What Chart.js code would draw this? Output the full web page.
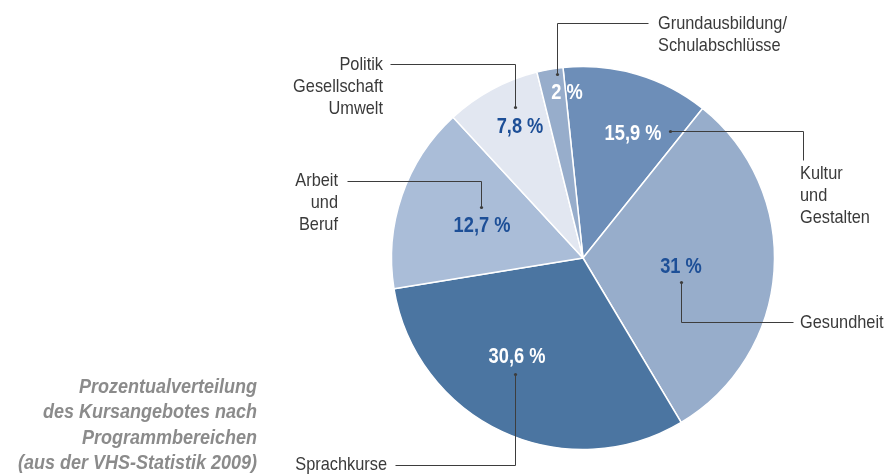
<!DOCTYPE html>
<html>
<head>
<meta charset="utf-8">
<title>Kursangebote nach Programmbereichen</title>
<script src="https://cdn.jsdelivr.net/npm/chart.js@4/dist/chart.umd.min.js"></script>
<style>
  html, body { margin: 0; padding: 0; background: #ffffff; }
  #pie { display: block; }
</style>
</head>
<body>
<canvas id="pie" width="885" height="475"></canvas>
<script>
// slices, clockwise from the top
const categories = ['Kultur und Gestalten', 'Gesundheit', 'Sprachkurse', 'Arbeit und Beruf',
                    'Politik Gesellschaft Umwelt', 'Grundausbildung/Schulabschlüsse'];
// slice sizes as drawn in the picture (in %)
const sliceShares = [12.4, 30.7, 31.0, 15.7, 8.0, 2.2];
// printed values
const valueLabels = ['15,9 %', '31 %', '30,6 %', '12,7 %', '7,8 %', '2 %'];
const categoryLines = [
  ['Kultur', 'und', 'Gestalten'],
  ['Gesundheit'],
  ['Sprachkurse'],
  ['Arbeit', 'und', 'Beruf'],
  ['Politik', 'Gesellschaft', 'Umwelt'],
  ['Grundausbildung/', 'Schulabschlüsse']
];
const titleLines = ['Prozentualverteilung', 'des Kursangebotes nach', 'Programmbereichen',
                    '(aus der VHS-Statistik 2009)'];

const sliceColors = ['#6d8eb8', '#97adcb', '#4b75a1', '#aabdd8', '#e2e7f1', '#97adcb'];
const valueColors = ['#ffffff', '#1d4f97', '#ffffff', '#1d4f97', '#1d4f97', '#ffffff'];

// callout layout, px offsets from the pie centre (at radius 191.5)
const callouts = [
  { label: [50, -124], path: [[87, -127], [220, -127], [220, -98]], text: [217, -84], align: 'left' },
  { label: [98, 9], path: [[98, 24], [98, 64], [210, 64]], text: [217, 65], align: 'left' },
  { label: [-66, 99], path: [[-68, 116], [-68, 207], [-188, 207]], text: [-196, 207], align: 'right' },
  { label: [-101, -32], path: [[-102, -51], [-102, -77], [-236, -77]], text: [-245, -77], align: 'right' },
  { label: [-63, -131], path: [[-68, -151], [-68, -194], [-193, -194]], text: [-200, -193], align: 'right' },
  { label: [-16, -165], path: [[-26, -184], [-26, -235], [65, -235]], text: [75, -234], align: 'left' }
];

const SANS = "'Liberation Sans', Arial, Helvetica, sans-serif";

// no condensed face installed, so squeeze the text horizontally
function narrowText(ctx, text, x, y, sx) {
  ctx.save();
  ctx.translate(x, y);
  ctx.scale(sx, 1);
  ctx.fillText(text, 0, 0);
  ctx.restore();
}

const calloutPlugin = {
  id: 'callouts',
  afterDatasetsDraw(chart) {
    const ctx = chart.ctx;
    const arcs = chart.getDatasetMeta(0).data;
    if (!arcs.length) return;
    const cx = arcs[0].x, cy = arcs[0].y;
    const k = arcs[0].outerRadius / 191.5;
    ctx.save();

    // leader lines
    ctx.strokeStyle = '#3d3d3d';
    ctx.lineWidth = 1;
    callouts.forEach(function (c) {
      ctx.beginPath();
      c.path.forEach(function (p, i) {
        const x = Math.round(cx + p[0] * k) + 0.5;
        const y = Math.round(cy + p[1] * k) + 0.5;
        if (i === 0) ctx.moveTo(x, y); else ctx.lineTo(x, y);
      });
      ctx.stroke();
      ctx.fillStyle = '#3d3d3d';
      ctx.beginPath();
      ctx.arc(Math.round(cx + c.path[0][0] * k) + 0.5, Math.round(cy + c.path[0][1] * k) + 0.5, 1.6, 0, Math.PI * 2);
      ctx.fill();
    });

    // values inside the slices
    ctx.font = 'bold 22px ' + SANS;
    ctx.textAlign = 'center';
    ctx.textBaseline = 'middle';
    callouts.forEach(function (c, i) {
      ctx.fillStyle = valueColors[i];
      narrowText(ctx, valueLabels[i], cx + c.label[0] * k, cy + c.label[1] * k, 0.83);
    });

    // category names
    ctx.font = '19px ' + SANS;
    ctx.fillStyle = '#3a3a3a';
    callouts.forEach(function (c, i) {
      ctx.textAlign = c.align;
      categoryLines[i].forEach(function (line, j) {
        narrowText(ctx, line, cx + c.text[0] * k, cy + c.text[1] * k + j * 22, 0.86);
      });
    });

    // caption bottom left
    ctx.font = 'italic bold 20px ' + SANS;
    ctx.fillStyle = '#8b8b8b';
    ctx.textAlign = 'right';
    titleLines.forEach(function (line, j) {
      narrowText(ctx, line, 257, 387 + j * 25.5, 0.9);
    });
    ctx.restore();
  }
};

new Chart(document.getElementById('pie'), {
  type: 'pie',
  data: {
    labels: categories,
    datasets: [{
      data: sliceShares,
      backgroundColor: sliceColors,
      borderColor: '#ffffff',
      borderWidth: 1.5
    }]
  },
  options: {
    responsive: false,
    devicePixelRatio: 1,
    animation: false,
    rotation: -6,
    radius: 191.5,
    layout: { padding: { left: 381, right: 100, top: 61, bottom: 20 } },
    plugins: {
      legend: { display: false },
      tooltip: { enabled: false },
      title: { display: false }
    }
  },
  plugins: [calloutPlugin]
});
</script>
</body>
</html>
